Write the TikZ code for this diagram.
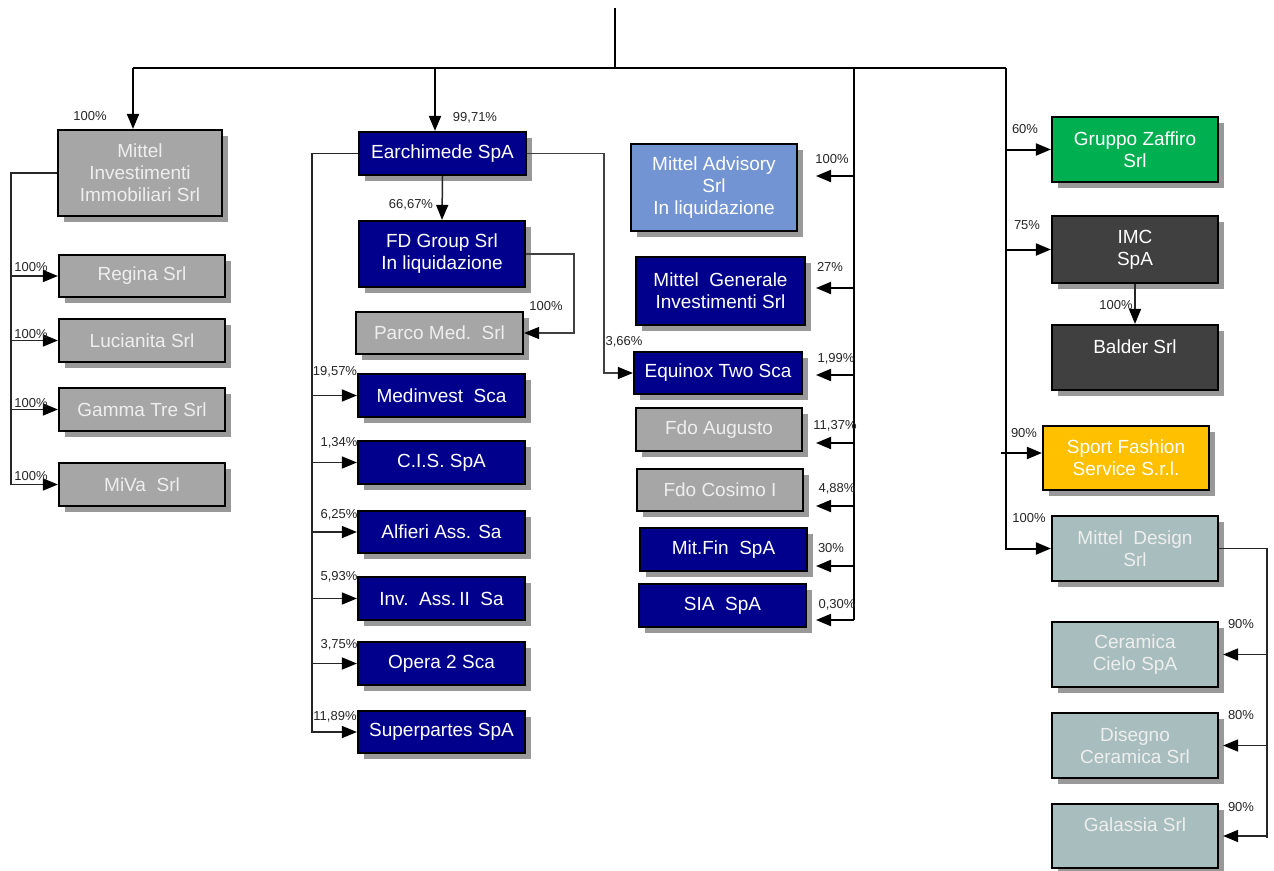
\documentclass[tikz,border=0pt]{standalone}
\usepackage{fontspec}
\setmainfont{Liberation Sans}
\usetikzlibrary{arrows.meta,shadows}
\definecolor{navyc}{RGB}{0,0,140}
\definecolor{grayc}{RGB}{166,166,166}
\definecolor{bluec}{RGB}{115,148,210}
\definecolor{greenc}{RGB}{0,176,80}
\definecolor{darkc}{RGB}{64,64,64}
\definecolor{yellowc}{RGB}{255,192,0}
\definecolor{tealc}{RGB}{168,190,190}
\definecolor{lighttext}{RGB}{238,238,238}
\newcommand\BX[7]{\node[box,#6,minimum width={#4-#2},minimum height={#5-#3}] (#1) at ({(#2+#4)/2},{(#3+#5)/2}) {#7};}
\begin{document}
\begin{tikzpicture}[x=1pt,y=-1pt,
  box/.style={draw=black,line width=2.2pt,align=center,inner sep=0pt,
    font=\fontsize{19}{22}\selectfont,
    drop shadow={shadow xshift=6pt,shadow yshift=-6pt,fill=black!40,opacity=1}},
  grayb/.style={fill=grayc,text=lighttext},
  navyb/.style={fill=navyc,text=white},
  blueb/.style={fill=bluec,text=white},
  greenb/.style={fill=greenc,text=white},
  darkb/.style={fill=darkc,text=white},
  yellowb/.style={fill=yellowc,text=white},
  tealb/.style={fill=tealc,text=lighttext},
  bus/.style={line width=2pt,draw=black},
  conn/.style={line width=1.5pt,draw=black!85},
  thinc/.style={line width=1.2pt,draw=black!75},
  arr/.style={-{Triangle[length=15pt 0 0,width=12pt 0 0,color=black]}},
  pct/.style={font=\fontsize{13}{13}\selectfont,inner sep=0pt,text=black!85}
]
\useasboundingbox (0,0) rectangle (1274,870);
\fill[white] (0,0) rectangle (1274,870);

% boxes
\BX{mii}{58}{130}{222}{216}{grayb}{Mittel\\Investimenti\\Immobiliari Srl}
\BX{regina}{59}{255}{225}{297}{grayb}{Regina Srl}
\BX{lucianita}{59}{319}{225}{362}{grayb}{Lucianita Srl}
\BX{gamma}{59}{388}{225}{431}{grayb}{Gamma Tre Srl}
\BX{miva}{59}{463}{225}{506}{grayb}{MiVa\ \ Srl}
\BX{earch}{359}{132}{526}{175}{navyb}{Earchimede SpA}
\BX{fd}{359}{221}{525}{287}{navyb}{FD Group Srl\\In liquidazione}
\BX{parco}{356}{312}{523}{354}{grayb}{Parco Med.\ \ Srl}
\BX{medinvest}{358}{374}{525}{417}{navyb}{Medinvest\ \ Sca}
\BX{cis}{358}{441}{525}{484}{navyb}{C.I.S.\ SpA}
\BX{alfieri}{358}{511}{525}{553}{navyb}{Alfieri Ass. Sa}
\BX{inv}{358}{577}{525}{620}{navyb}{Inv.\ \ Ass.\,II\ \ Sa}
\BX{opera}{358}{642}{525}{685}{navyb}{Opera 2 Sca}
\BX{super}{358}{711}{525}{753}{navyb}{Superpartes SpA}
\BX{advisory}{631}{144}{797}{231}{blueb}{Mittel Advisory\\Srl\\In liquidazione}
\BX{gener}{636}{257}{805}{325}{navyb}{Mittel\ \ Generale\\Investimenti Srl}
\BX{equinox}{634}{352}{802}{394}{navyb}{Equinox Two Sca}
\BX{augusto}{636}{408}{802}{451}{grayb}{Fdo Augusto}
\BX{cosimo}{637}{469}{803}{511}{grayb}{Fdo Cosimo I}
\BX{mitfin}{640}{528}{807}{571}{navyb}{Mit.Fin\ \ SpA}
\BX{sia}{639}{584}{806}{627}{navyb}{SIA\ \ SpA}
\BX{zaffiro}{1052}{117}{1218}{182}{greenb}{Gruppo Zaffiro\\Srl}
\BX{imc}{1052}{216}{1218}{283}{darkb}{IMC\\SpA}
\BX{balder}{1052}{325}{1218}{390}{darkb}{Balder Srl\\\phantom{X}}
\BX{sport}{1043}{426}{1209}{490}{yellowb}{Sport Fashion\\Service S.r.l.}
\BX{design}{1052}{516}{1218}{581}{tealb}{Mittel\ \ Design\\Srl}
\BX{cielo}{1052}{622}{1218}{687}{tealb}{Ceramica\\Cielo SpA}
\BX{disegno}{1052}{713}{1218}{778}{tealb}{Disegno\\Ceramica Srl}
\BX{galassia}{1052}{804}{1218}{868}{tealb}{Galassia Srl\\\phantom{X}}

% top bus
\coordinate (top) at (615,8);
\coordinate (tj) at (615,68);
\coordinate (hl) at (133,68);
\coordinate (he) at (435,68);
\coordinate (hm) at (854,68);
\coordinate (hmb) at (854,620);
\coordinate (hr) at (1006,68);
\draw[bus] (top) -- (tj);
\draw[bus] (hl) -- (hr);
\draw[bus,arr] (hl) -- (hl |- mii.north);
\draw[bus,arr] (he) -- (he |- earch.north);
\draw[bus] (hm) -- (hmb);

% left group
\coordinate (lb) at (11,0);
\draw[conn] (mii.west) -- (mii.west -| lb) -- (lb |- miva.west);
\foreach \n in {regina,lucianita,gamma,miva}
  \draw[conn,arr] (lb |- \n.west) -- (\n.west);

% Earchimede group
\coordinate (mb) at (312,733);
\draw[conn] (earch.west) -| (mb);
\foreach \n in {medinvest,cis,alfieri,inv,opera,super}
  \draw[conn,arr] (mb |- \n.west) -- (\n.west);
\draw[conn,arr] (earch.south) -- (fd.north);
\coordinate (fr) at (574,0);
\draw[thinc,arr] (fd.east) -- (fd.east -| fr) |- (parco.east);
\coordinate (er) at (604,0);
\draw[thinc,arr] (earch.east) -- (earch.east -| er) |- (equinox.west);

% middle bus arrows
\foreach \yy/\nm in {176/ta,288/tb,375/tc,443/td,506/te,566/tf,620/tg}{
  \coordinate (\nm) at (816,\yy);
  \draw[bus,arr] (\nm -| hm) -- (\nm);
}

% right bus
\draw[bus,arr] (hr) |- (design.west);
\draw[bus,arr] (hr |- zaffiro.west) -- (zaffiro.west);
\draw[bus,arr] (hr |- imc.west) -- (imc.west);
\coordinate (sa) at (1001,453);
\draw[bus,arr] (sa) -- (sa -| sport.west);
\draw[conn,arr] (imc.south) -- (balder.north);
\coordinate (dr) at (1267,838);
\draw[conn] (design.east) -| (dr);
\foreach \n in {cielo,disegno,galassia}
  \draw[conn,arr,shorten >=4pt] (dr |- \n.east) -- (\n.east);

% percentages
\node[pct] (p1) at (90,116) {100\%};
\node[pct] (p2) at (475,118) {99,71\%};
\node[pct] (p3) at (411,205) {66,67\%};
\node[pct] (p4) at (546,306) {100\%};
\node[pct] (p5) at (31,267) {100\%};
\node[pct] (p6) at (31,334) {100\%};
\node[pct] (p7) at (31,403) {100\%};
\node[pct] (p8) at (31,476) {100\%};
\node[pct] (p9) at (335,372) {19,57\%};
\node[pct] (p10) at (339,443) {1,34\%};
\node[pct] (p11) at (339,515) {6,25\%};
\node[pct] (p12) at (339,577) {5,93\%};
\node[pct] (p13) at (339,645) {3,75\%};
\node[pct] (p14) at (335,717) {11,89\%};
\node[pct] (p15) at (624,342) {3,66\%};
\node[pct] (p16) at (832,159) {100\%};
\node[pct] (p17) at (830,267) {27\%};
\node[pct] (p18) at (836,359) {1,99\%};
\node[pct] (p19) at (835,426) {11,37\%};
\node[pct] (p20) at (837,489) {4,88\%};
\node[pct] (p21) at (831,548) {30\%};
\node[pct] (p22) at (837,605) {0,30\%};
\node[pct] (p23) at (1025,129) {60\%};
\node[pct] (p24) at (1027,225) {75\%};
\node[pct] (p25) at (1116,305) {100\%};
\node[pct] (p26) at (1024,433) {90\%};
\node[pct] (p27) at (1029,518) {100\%};
\node[pct] (p28) at (1241,624) {90\%};
\node[pct] (p29) at (1241,715) {80\%};
\node[pct] (p30) at (1241,807) {90\%};
\end{tikzpicture}
\end{document}
